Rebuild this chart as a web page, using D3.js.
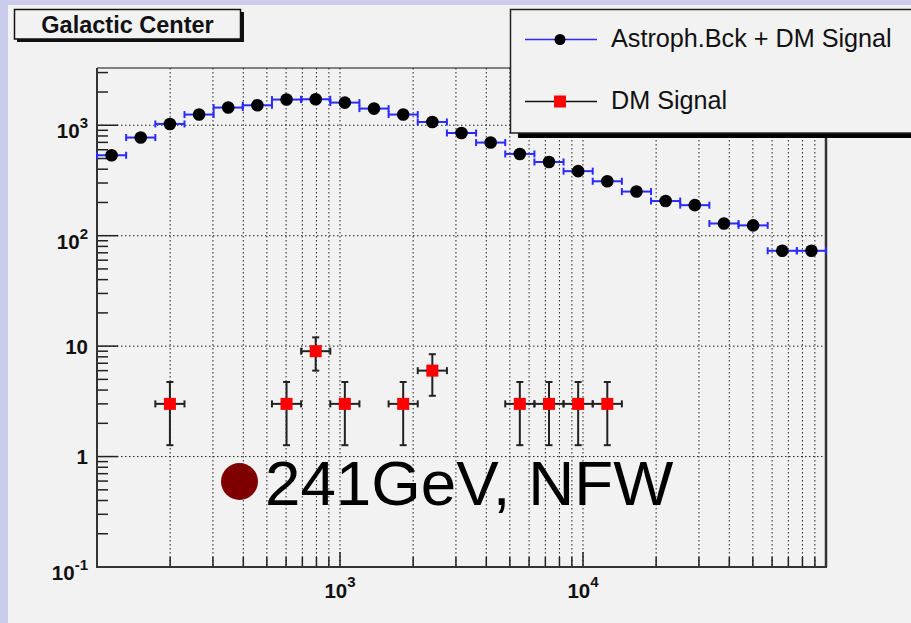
<!DOCTYPE html>
<html><head><meta charset="utf-8">
<script src="https://cdn.jsdelivr.net/npm/d3@7"></script>
<style>html,body{margin:0;padding:0;background:#cbcbec;}svg{display:block;}</style>
</head><body>
<script>
// ---- data ----
const binEdges = [100,131.8,173.8,229.1,302.0,398.1,524.8,691.8,912.0,1202,1585,2089,2754,3631,4786,6310,8318,10965,14454,19055,25119,33113,43652,57544,75858,100000];
const totalCounts = [535,774,1028,1250,1446,1517,1709,1720,1604,1416,1250,1071,851,697,550,465,384,311,251,206,189,129,124,73,73];
const signalCounts = [0,0,3,0,0,0,3,9,3,0,3,6,0,0,3,3,3,3,0,0,0,0,0,0,0];
const yTickValues = [0.1,1,10,100,1000];
const yTickBase = ["10","1","10","10","10"];
const yTickExp = ["-1","","","2","3"];
const xTickValues = [1000,10000];
const xTickBase = ["10","10"];
const xTickExp = ["3","4"];
const titleText = "Galactic Center";
const legendLabels = ["Astroph.Bck + DM Signal","DM Signal"];
const noteText = "241GeV, NFW";

const W=911,H=623;
const svg=d3.select("body").append("svg").attr("width",W).attr("height",H);
svg.append("rect").attr("width",W).attr("height",H).attr("fill","#cbcbec");
svg.append("rect").attr("x",8).attr("y",5).attr("width",W-8).attr("height",H-5).attr("fill","#f2f2f2");

const L=97,R=826,T=68,B=567;
const x=d3.scaleLog().domain([100,1e5]).range([L,R]);
const y=d3.scaleLog().domain([0.1,3300]).range([B,T]);
const font="'Liberation Sans', Arial, Helvetica, sans-serif";

// minor tick values
const xMinor=[];[100,1000,10000].forEach(d=>{for(let k=2;k<=9;k++)xMinor.push(d*k);});
const yMinor=[];[0.1,1,10,100,1000].forEach(d=>{for(let k=2;k<=9;k++){if(d*k<=3300)yMinor.push(d*k);}});

const g=svg.append("g");
// grid
g.selectAll(".gx").data(xMinor.concat(xTickValues)).enter().append("line")
 .attr("x1",d=>x(d)).attr("x2",d=>x(d)).attr("y1",T).attr("y2",B)
 .attr("stroke","#222").attr("stroke-width",1).attr("stroke-dasharray","1.5,2.5");
g.selectAll(".gy").data(yTickValues.slice(1)).enter().append("line")
 .attr("x1",L).attr("x2",R).attr("y1",d=>y(d)).attr("y2",d=>y(d))
 .attr("stroke","#222").attr("stroke-width",1).attr("stroke-dasharray","1.5,2.5");

// ticks
g.selectAll(".tx").data(xMinor).enter().append("line")
 .attr("x1",d=>x(d)).attr("x2",d=>x(d)).attr("y1",B).attr("y2",B-10).attr("stroke","#222").attr("stroke-width",1.5);
g.selectAll(".tX").data(xTickValues).enter().append("line")
 .attr("x1",d=>x(d)).attr("x2",d=>x(d)).attr("y1",B).attr("y2",B-15).attr("stroke","#222").attr("stroke-width",1.5);
g.selectAll(".ty").data(yMinor).enter().append("line")
 .attr("x1",L).attr("x2",L+11).attr("y1",d=>y(d)).attr("y2",d=>y(d)).attr("stroke","#222").attr("stroke-width",1.5);
g.selectAll(".tY").data(yTickValues).enter().append("line")
 .attr("x1",L).attr("x2",L+21).attr("y1",d=>y(d)).attr("y2",d=>y(d)).attr("stroke","#222").attr("stroke-width",1.5);

// frame
g.append("line").attr("x1",L).attr("x2",R).attr("y1",T).attr("y2",T).attr("stroke","#111").attr("stroke-width",1);
g.append("line").attr("x1",R).attr("x2",R).attr("y1",T).attr("y2",B).attr("stroke","#333").attr("stroke-width",2.5);
g.append("line").attr("x1",L).attr("x2",L).attr("y1",T).attr("y2",B+1).attr("stroke","#333").attr("stroke-width",2);
g.append("line").attr("x1",L-1).attr("x2",R+1).attr("y1",B).attr("y2",B).attr("stroke","#333").attr("stroke-width",2);

// tick labels
yTickValues.forEach((v,i)=>{
  const hasExp=yTickExp[i]!=="";
  const t=g.append("text").attr("x",88).attr("y",y(v)+(hasExp?13:7.5)).attr("text-anchor","end")
    .attr("font-family",font).attr("font-weight","bold").attr("font-size",20.5).attr("fill","#111");
  t.append("tspan").text(yTickBase[i]);
  if(hasExp) t.append("tspan").attr("dy",-10).attr("font-size",15).text(yTickExp[i]);
});
xTickValues.forEach((v,i)=>{
  const t=g.append("text").attr("x",x(v)).attr("y",598).attr("text-anchor","middle")
    .attr("font-family",font).attr("font-weight","bold").attr("font-size",20.5).attr("fill","#111");
  t.append("tspan").text(xTickBase[i]);
  t.append("tspan").attr("dy",-11).attr("font-size",15).text(xTickExp[i]);
});

// series data
const bins=totalCounts.map((v,i)=>({lo:binEdges[i],hi:binEdges[i+1],c:Math.sqrt(binEdges[i]*binEdges[i+1]),v:v,s:signalCounts[i]}));

function errorBars(sel,data,key,color,capH,vCaps){
  const eg=sel.append("g").attr("stroke",color).attr("stroke-width",2).attr("fill","none");
  data.forEach(d=>{
    const v=d[key], e=Math.sqrt(v);
    const cy=y(v), x0=x(d.lo), x1=x(d.hi), cx=x(d.c);
    eg.append("line").attr("x1",x0).attr("x2",x1).attr("y1",cy).attr("y2",cy);
    eg.append("line").attr("x1",x0).attr("x2",x0).attr("y1",cy-capH).attr("y2",cy+capH);
    eg.append("line").attr("x1",x1).attr("x2",x1).attr("y1",cy-capH).attr("y2",cy+capH);
    const yt=y(v+e), yb=y(Math.max(v-e,0.11));
    eg.append("line").attr("x1",cx).attr("x2",cx).attr("y1",yt).attr("y2",yb);
    if(vCaps){
      eg.append("line").attr("x1",cx-capH).attr("x2",cx+capH).attr("y1",yt).attr("y2",yt);
      eg.append("line").attr("x1",cx-capH).attr("x2",cx+capH).attr("y1",yb).attr("y2",yb);
    }
  });
}
errorBars(g,bins,"v","#2a2aff",3.5,false);
g.selectAll(".pt").data(bins).enter().append("circle")
 .attr("cx",d=>x(d.c)).attr("cy",d=>y(d.v)).attr("r",6.3).attr("fill","#000");

const sig=bins.filter(d=>d.s>0);
errorBars(g,sig,"s","#222",3.5,true);
g.selectAll(".sq").data(sig).enter().append("rect")
 .attr("x",d=>x(d.c)-6).attr("y",d=>y(d.s)-6).attr("width",12).attr("height",12).attr("fill","#ff0000");

// annotation
svg.append("circle").attr("cx",239.5).attr("cy",481.5).attr("r",18.5).attr("fill","#7f0000");
svg.append("text").attr("x",265).attr("y",505).attr("font-family",font).attr("font-size",63.7).attr("fill","#000").text(noteText);

// title box
svg.append("rect").attr("x",17).attr("y",12).attr("width",227).attr("height",30).attr("fill","#111");
svg.append("rect").attr("x",14.5).attr("y",9.5).attr("width",226).attr("height",29.5).attr("fill","#f2f2f2").attr("stroke","#111").attr("stroke-width",1.5);
svg.append("text").attr("x",127.5).attr("y",33).attr("text-anchor","middle").attr("font-family",font)
 .attr("font-weight","bold").attr("font-size",23.5).attr("fill","#111").text(titleText);

// legend
svg.append("rect").attr("x",518).attr("y",14).attr("width",400).attr("height",124).attr("fill","#000");
svg.append("rect").attr("x",510.5).attr("y",9.5).attr("width",410).attr("height",123.5).attr("fill","#f2f2f2").attr("stroke","#222").attr("stroke-width",1.5);
const lg=svg.append("g");
const rows=[39.5,101.5];
lg.append("line").attr("x1",525).attr("x2",597).attr("y1",rows[0]).attr("y2",rows[0]).attr("stroke","#2a2aff").attr("stroke-width",1.5);
lg.append("circle").attr("cx",560).attr("cy",rows[0]).attr("r",5.5).attr("fill","#000");
lg.append("line").attr("x1",525).attr("x2",597).attr("y1",rows[1]).attr("y2",rows[1]).attr("stroke","#111").attr("stroke-width",1.5);
lg.append("rect").attr("x",554).attr("y",rows[1]-6).attr("width",12).attr("height",12).attr("fill","#ff0000");
legendLabels.forEach((s,i)=>{
  lg.append("text").attr("x",611).attr("y",rows[i]+7.5).attr("font-family",font).attr("font-size",25.2).attr("fill","#111").text(s);
});
</script>
</body></html>
